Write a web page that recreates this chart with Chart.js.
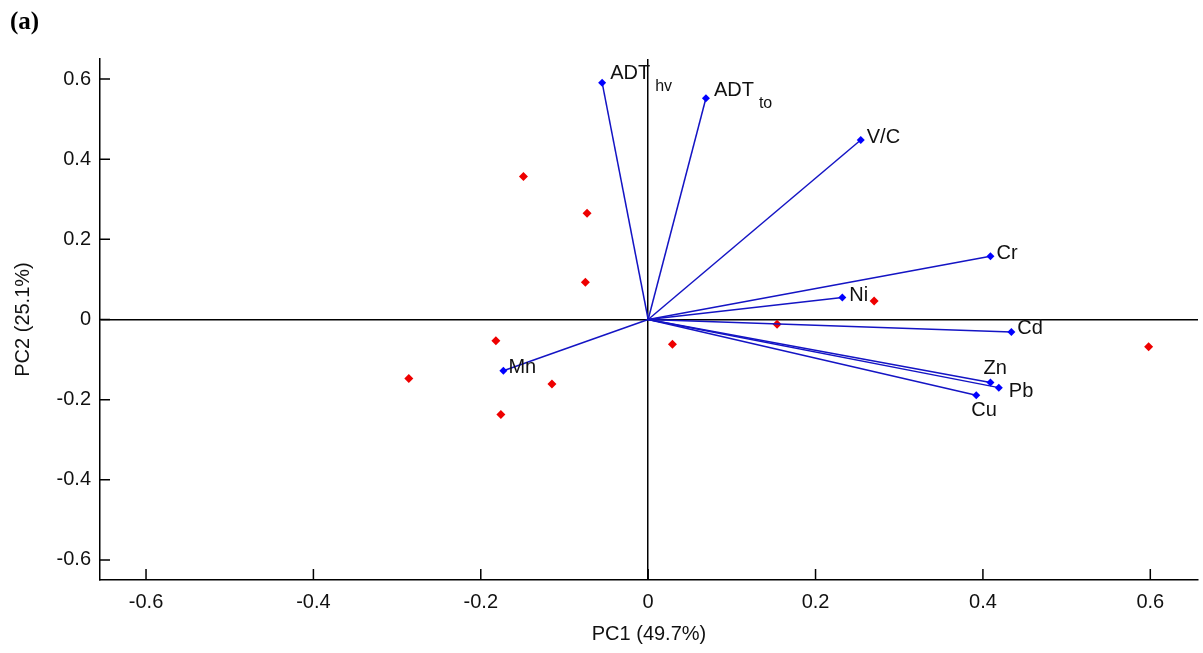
<!DOCTYPE html>
<html>
<head>
<meta charset="utf-8">
<script src="https://cdn.jsdelivr.net/npm/chart.js@4/dist/chart.umd.min.js"></script>
<style>
body{margin:0;background:#fff;}
</style>
</head>
<body>
<canvas id="pca" width="1203" height="653"></canvas>
<script>
// variable loadings (vectors)
const varNames = [['ADT','hv'],['ADT','to'],['V/C'],['Cr'],['Ni'],['Cd'],['Zn'],['Pb'],['Cu'],['Mn']];
const varPC1 = [-0.055, 0.069, 0.254, 0.409, 0.232, 0.434, 0.409, 0.419, 0.392, -0.173];
const varPC2 = [0.591, 0.552, 0.448, 0.158, 0.055, -0.031, -0.157, -0.170, -0.189, -0.128];
// sample scores (red points)
const obsPC1 = [-0.149, -0.073, -0.075, -0.182, -0.286, -0.115, -0.176, 0.029, 0.154, 0.270, 0.598];
const obsPC2 = [0.357, 0.265, 0.093, -0.053, -0.147, -0.161, -0.237, -0.062, -0.012, 0.046, -0.068];
const xTicks = [-0.6, -0.4, -0.2, 0, 0.2, 0.4, 0.6];
const yTicks = [-0.6, -0.4, -0.2, 0, 0.2, 0.4, 0.6];

// label offsets in px from each vector tip
const labelOffset = [[8,-9],[8,-8],[6,-2],[6,-3],[7,-2],[6,-3],[-7,-14],[10,4],[-5,15],[5,-3]];

Chart.defaults.font.family = "'Liberation Sans', Arial, sans-serif";
Chart.defaults.color = '#111';

const fmt = v => v === 0 ? '0' : v.toFixed(1);

const vectorSets = varPC1.map((x, i) => ({
    data: [{x: 0, y: 0}, {x: x, y: varPC2[i]}],
    showLine: true,
    borderColor: '#1414c4',
    borderWidth: 1.5,
    pointRadius: [0, 4],
    pointStyle: 'rectRot',
    pointBackgroundColor: '#0000ff',
    pointBorderColor: '#0000ff',
    pointBorderWidth: 0
}));

const obsSet = {
    data: obsPC1.map((x, i) => ({x: x, y: obsPC2[i]})),
    pointStyle: 'rectRot',
    pointRadius: 4.5,
    pointBackgroundColor: '#ee0000',
    pointBorderColor: '#ee0000',
    pointBorderWidth: 0
};

// short tick marks pointing into the plot
const inwardTicks = {
    id: 'inwardTicks',
    beforeDatasetsDraw(chart) {
        const {ctx, chartArea: a, scales: {x, y}} = chart;
        ctx.save();
        ctx.strokeStyle = '#000';
        ctx.lineWidth = 1.5;
        ctx.beginPath();
        xTicks.forEach(v => {
            const px = x.getPixelForValue(v);
            ctx.moveTo(px, a.bottom);
            ctx.lineTo(px, a.bottom - 11);
        });
        yTicks.forEach(v => {
            const py = y.getPixelForValue(v);
            ctx.moveTo(a.left, py);
            ctx.lineTo(a.left + 10, py);
        });
        ctx.stroke();
        ctx.restore();
    }
};

// variable names at vector tips, plus panel letter
const vecLabels = {
    id: 'vecLabels',
    afterDatasetsDraw(chart) {
        const {ctx, scales: {x, y}} = chart;
        ctx.save();
        ctx.fillStyle = '#111';
        ctx.textBaseline = 'middle';
        ctx.textAlign = 'left';
        varNames.forEach((nm, i) => {
            const px = x.getPixelForValue(varPC1[i]) + labelOffset[i][0];
            const py = y.getPixelForValue(varPC2[i]) + labelOffset[i][1];
            ctx.font = "20px 'Liberation Sans', Arial, sans-serif";
            ctx.fillText(nm[0], px, py);
            if (nm[1]) {
                const w = ctx.measureText(nm[0]).width;
                ctx.font = "16px 'Liberation Sans', Arial, sans-serif";
                ctx.fillText(nm[1], px + w + 5, py + 13);
            }
        });
        ctx.font = "bold 25px 'Liberation Serif', 'Times New Roman', serif";
        ctx.fillStyle = '#000';
        ctx.fillText('(a)', 10, 23);
        ctx.restore();
    }
};

const zeroGrid = ctx => ctx.tick && ctx.tick.value === 0 ? '#000' : 'rgba(0,0,0,0)';

new Chart(document.getElementById('pca'), {
    type: 'scatter',
    data: {datasets: [...vectorSets, obsSet]},
    options: {
        responsive: false,
        animation: false,
        layout: {padding: {top: 59, right: 5, left: 0, bottom: 0}},
        plugins: {legend: {display: false}, tooltip: {enabled: false}},
        scales: {
            x: {
                type: 'linear',
                min: -0.655,
                max: 0.657,
                afterBuildTicks: s => { s.ticks = xTicks.map(v => ({value: v})); },
                afterFit: s => { s.height = 73; },
                ticks: {callback: fmt, font: {size: 20}, padding: 10, autoSkip: false, maxRotation: 0},
                grid: {color: zeroGrid, lineWidth: 1.5, drawTicks: false},
                border: {display: true, color: '#000', width: 1.5},
                title: {display: true, text: 'PC1 (49.7%)', font: {size: 20}, padding: {top: 0, bottom: 7}}
            },
            y: {
                type: 'linear',
                min: -0.65,
                max: 0.65,
                afterBuildTicks: s => { s.ticks = yTicks.map(v => ({value: v})); },
                afterFit: s => { s.width = 100; },
                ticks: {callback: fmt, font: {size: 20}, padding: 9, autoSkip: false},
                grid: {color: zeroGrid, lineWidth: 1.5, drawTicks: false},
                border: {display: true, color: '#000', width: 1.5},
                title: {display: true, text: 'PC2 (25.1%)', font: {size: 20}, padding: {top: 11, bottom: 0}}
            }
        }
    },
    plugins: [inwardTicks, vecLabels]
});
</script>
</body>
</html>
